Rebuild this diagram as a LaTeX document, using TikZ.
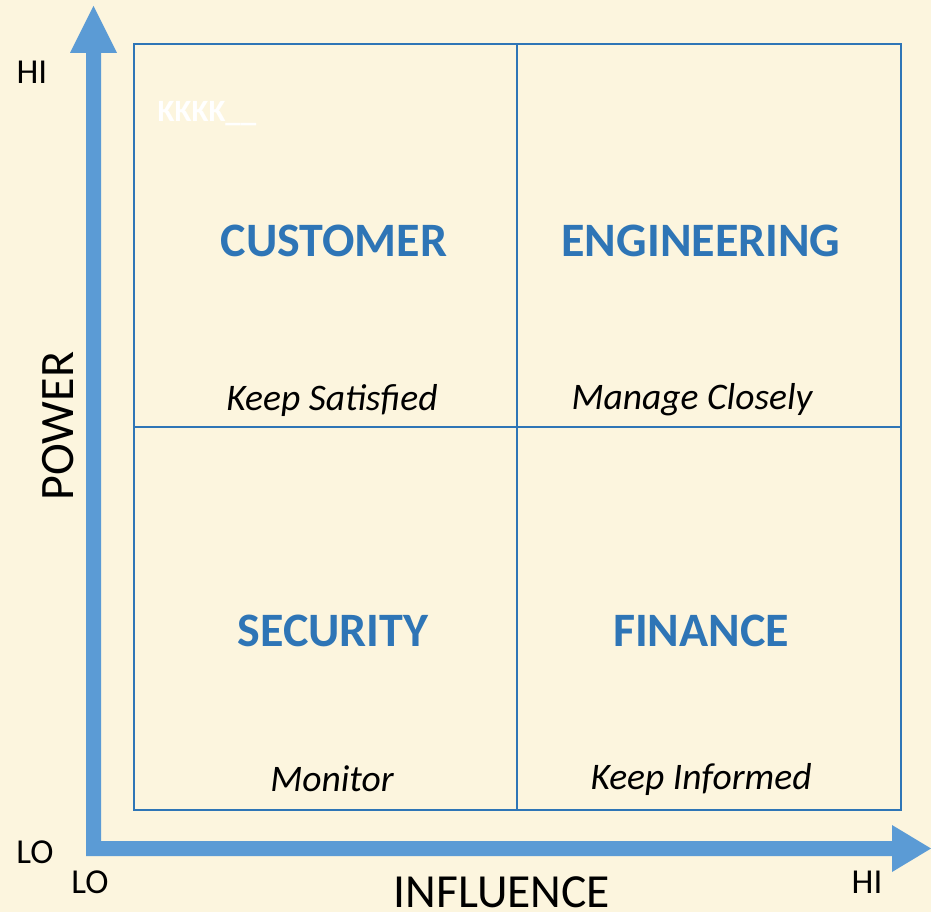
\documentclass[tikz,border=0pt]{standalone}
\usepackage{fontspec}
\setmainfont{Carlito}
\definecolor{paper}{HTML}{FCF5DE}
\definecolor{axisblue}{HTML}{5B9BD5}
\definecolor{gridblue}{HTML}{2E75B6}
\tikzset{
  axislabel/.style={font=\fontsize{35}{38}\selectfont, text=black, inner sep=0pt},
  quadtitle/.style={font=\fontsize{48}{52}\selectfont\bfseries, text=gridblue, inner sep=0pt},
  quadnote/.style={font=\fontsize{37.5}{40}\selectfont\itshape, text=black, inner sep=0pt},
  gridline/.style={draw=gridblue, line width=2pt}
}
\begin{document}
\begin{tikzpicture}[x=1pt, y=-1pt]
  \fill[paper] (0,0) rectangle (931,912);
  \useasboundingbox (0,0) rectangle (931,912);

  % L-shaped axis pair with arrow heads
  \fill[axisblue] (86,856) -- (86,53) -- (70,53) -- (93.5,6) -- (117,53) -- (101,53)
    -- (101,841) -- (892,841) -- (892,825) -- (931,848.5) -- (892,872) -- (892,856) -- cycle;

  % quadrant grid
  \draw[gridline] (134,44) rectangle (901,810);
  \draw[gridline] (517,44) -- (517,810);
  \draw[gridline] (134,427) -- (901,427);

  % axis labels
  \node[axislabel] (phi) at (32,72) {HI};
  \node[axislabel] (plo) at (35,852) {LO};
  \node[axislabel] (ilo) at (90,882) {LO};
  \node[axislabel] (ihi) at (867,882) {HI};
  \node[font=\fontsize{47.5}{50}\selectfont, inner sep=0pt] (infl) at (502,892) {INFLUENCE};
  \node[font=\fontsize{48}{50}\selectfont, inner sep=0pt, rotate=90] (pow) at (58,426) {POWER};

  % placeholder tag
  \node[font=\fontsize{31}{33}\selectfont\bfseries, text=white, inner sep=0pt] (tag) at (207,114) {KKKK\_\_};

  % quadrant titles
  \node[quadtitle] (cust) at (334,241) {CUSTOMER};
  \node[quadtitle] (eng) at (701,241) {ENGINEERING};
  \node[quadtitle] (sec) at (333,631) {SECURITY};
  \node[quadtitle] (fin) at (701,631) {FINANCE};

  % quadrant strategies
  \node[quadnote] (ks) at (332,400) {Keep Satisfied};
  \node[quadnote] (mc) at (692,400) {Manage Closely};
  \node[quadnote] (mo) at (332,779) {Monitor};
  \node[quadnote] (ki) at (701,779) {Keep Informed};
\end{tikzpicture}
\end{document}
